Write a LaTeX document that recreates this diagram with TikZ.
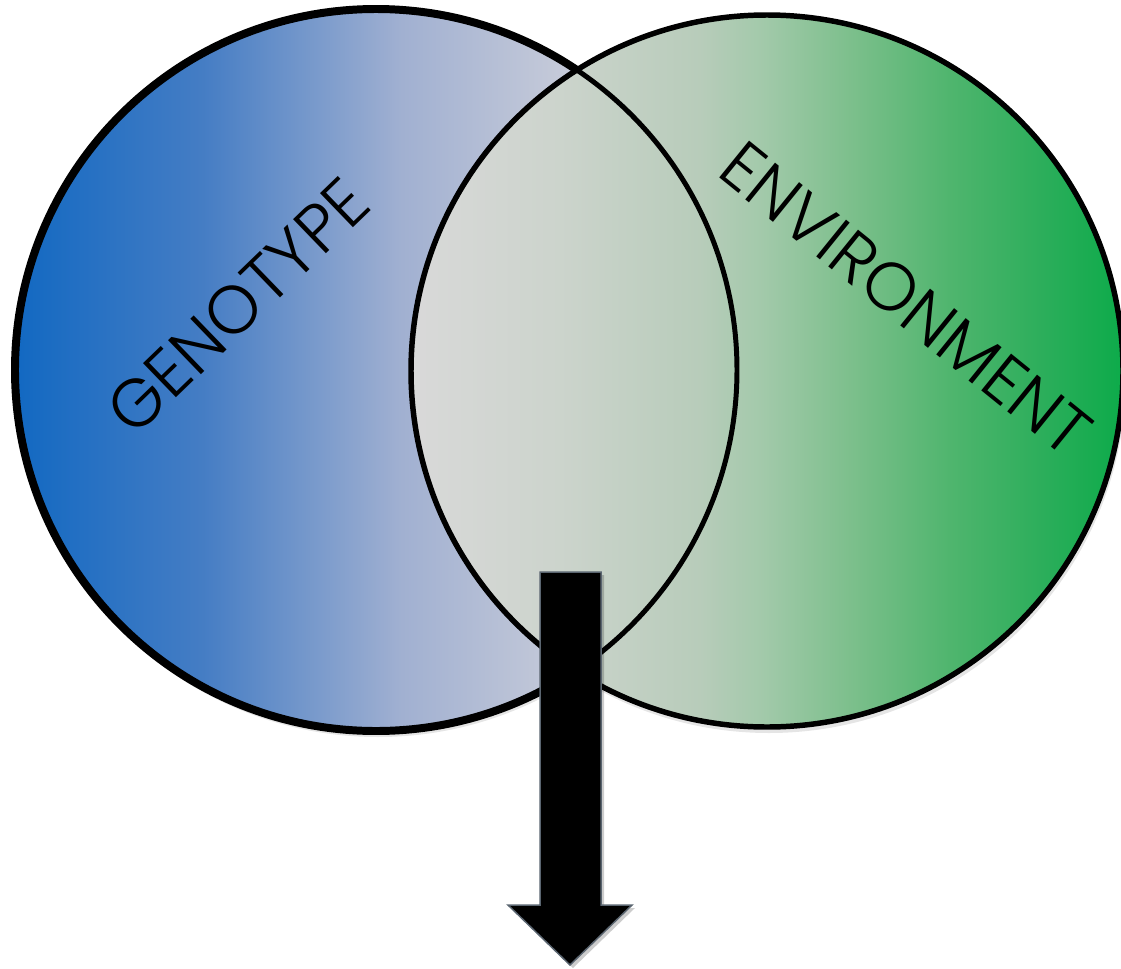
\documentclass[tikz,border=0pt]{standalone}
\usepackage{fontspec}
\newfontfamily\labelfont{Poppins Light}
\pgfdeclarehorizontalshading{geno}{100bp}{
  rgb(0bp)=(0.07,0.41,0.76);
  rgb(25bp)=(0.07,0.41,0.76);
  rgb(38bp)=(0.27,0.49,0.77);
  rgb(51.7bp)=(0.63,0.69,0.82);
  rgb(62.7bp)=(0.77,0.79,0.85);
  rgb(75bp)=(0.82,0.82,0.86);
  rgb(100bp)=(0.82,0.82,0.86)}
\pgfdeclarehorizontalshading{envi}{100bp}{
  rgb(0bp)=(0.85,0.85,0.85);
  rgb(25bp)=(0.85,0.85,0.85);
  rgb(35.5bp)=(0.80,0.83,0.80);
  rgb(45.3bp)=(0.72,0.80,0.73);
  rgb(49.5bp)=(0.64,0.79,0.67);
  rgb(55.8bp)=(0.49,0.75,0.55);
  rgb(62.9bp)=(0.31,0.71,0.43);
  rgb(69.9bp)=(0.16,0.68,0.35);
  rgb(75bp)=(0.05,0.67,0.29);
  rgb(100bp)=(0.05,0.67,0.29)}
\definecolor{arrowedge}{RGB}{90,101,112}
\tikzset{
  ring/.style={draw=black},
  label/.style={font=\labelfont\fontsize{68}{68}\selectfont, inner sep=0pt},
  bigarrow/.style={fill=black, draw=arrowedge, line width=1.5, line join=miter}
}
\begin{document}
\begin{tikzpicture}[x=1bp,y=-1bp]
\useasboundingbox (0,0) rectangle (1121,969);
% shadows
\fill[black,opacity=0.10] (378,375) circle [radius=362];
\fill[black,opacity=0.10] (769,376) circle [radius=357];
% left circle
\path[shading=geno, ring, line width=8] (376,370) circle [radius=361];
% right circle
\path[shading=envi, ring, line width=5.5] (767,371) circle [radius=356];
% left circle arc inside right circle
\begin{scope}
  \clip (767,371) circle [radius=356];
  \draw[ring, line width=5] (376,370) circle [radius=361];
\end{scope}
% labels
\node[label, rotate=44] (geno) at (238,306) {GENOTYPE};
\node[label, rotate=-39] (envi) at (906,299) {ENVIRONMENT};
% arrow
\fill[black,opacity=0.2] (543,575) -- (604,575) -- (604,908) -- (635,908) -- (573,968) -- (511,908) -- (543,908) -- cycle;
\draw[bigarrow] (540,572) -- (601,572) -- (601,905) -- (632,905) -- (570,965) -- (508,905) -- (540,905) -- cycle;
\end{tikzpicture}
\end{document}
